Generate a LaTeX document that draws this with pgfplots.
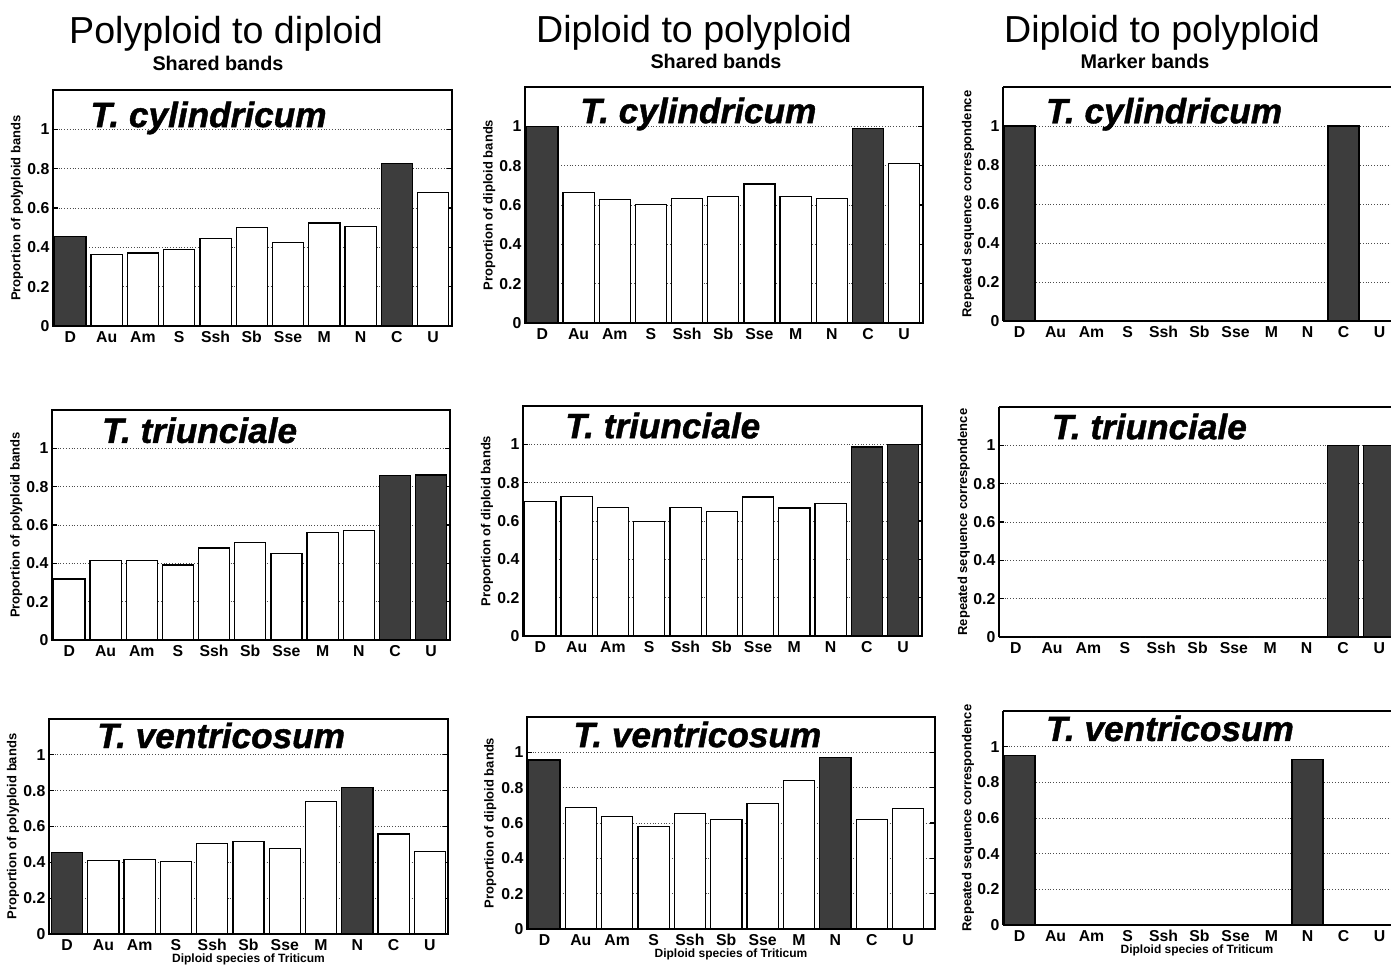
\documentclass[border=0pt]{standalone}
\usepackage{fontspec}
\setmainfont{Liberation Sans}
\newfontfamily\heavy{Liberation Sans Bold Italic}[FakeBold=1.2]
\usepackage{pgfplots}
\pgfplotsset{compat=1.18}

\pgfplotsset{
  panel/.style={
    scale only axis,
    ymin=0, ymax=1.2,
    xmin=-0.48, xmax=10.52,
    ytick={0,0.2,0.4,0.6,0.8,1},
    yticklabels={0,0.2,0.4,0.6,0.8,1},
    xtick={0,1,2,3,4,5,6,7,8,9,10},
    xticklabels={D,Au,Am,S,Ssh,Sb,Sse,M,N,C,U},
    major x tick style={draw=none},
    tick align=inside,
    major tick length=2.5bp,
    ymajorgrids,
    major grid style={densely dotted, black!70, line width=0.5bp},
    axis line style={line width=0.8bp},
    every tick/.style={line width=0.6bp, black},
    ticklabel style={font=\fontsize{7.9bp}{8.5bp}\selectfont\bfseries},
    yticklabel style={inner sep=1.6bp},
    xticklabel style={anchor=base, yshift=-8.2bp},
    ylabel style={font=\fontsize{6.5bp}{7bp}\selectfont\bfseries, at={(axis description cs:-0.09,0.5)}, anchor=center},
    xlabel style={font=\fontsize{6bp}{7bp}\selectfont\bfseries, at={(axis description cs:0.5,0)}, anchor=center, yshift=-12.5bp},
  },
  marker/.style={panel, xmin=-0.46, xmax=10.32, axis x line*=box, axis y line*=left},
  lbar/.style={ybar, bar width=0.86, bar shift=0pt, fill=white, draw=black, line width=0.6bp},
  dbar/.style={ybar, bar width=0.86, bar shift=0pt, fill=black!76, draw=black, line width=0.6bp},
}
\tikzset{ptitle/.style={anchor=base west, inner sep=0pt, font=\heavy\fontsize{17.6bp}{20bp}\selectfont}}

\begin{document}
\begin{tikzpicture}
\useasboundingbox (0,0) rectangle (695.5bp,-483bp);

% column titles
\node[anchor=base, inner sep=0pt, font=\fontsize{18.8bp}{21bp}\selectfont] at (113bp,-21.5bp) {Polyploid to diploid};
\node[anchor=base, inner sep=0pt, font=\fontsize{9.9bp}{11bp}\selectfont\bfseries] at (109bp,-35bp) {Shared bands};
\node[anchor=base, inner sep=0pt, font=\fontsize{18.8bp}{21bp}\selectfont] at (347bp,-21bp) {Diploid to polyploid};
\node[anchor=base, inner sep=0pt, font=\fontsize{9.9bp}{11bp}\selectfont\bfseries] at (358bp,-34bp) {Shared bands};
\node[anchor=base, inner sep=0pt, font=\fontsize{18.8bp}{21bp}\selectfont] at (581bp,-21bp) {Diploid to polyploid};
\node[anchor=base, inner sep=0pt, font=\fontsize{9.9bp}{11bp}\selectfont\bfseries] at (572.5bp,-34bp) {Marker bands};

% ---------- Row 1: T. cylindricum ----------
\begin{axis}[panel, at={(26.5bp,-163bp)}, width=199.5bp, height=118bp,
  ylabel={Proportion of polyploid bands}]
\addplot[lbar] coordinates {(1,0.364) (2,0.371) (3,0.388) (4,0.446) (5,0.500) (6,0.425) (7,0.524) (8,0.507) (10,0.677)};
\addplot[dbar] coordinates {(0,0.456) (9,0.825)};
\node[ptitle] at (rel axis cs:0.093,0.843) {T. cylindricum};
\end{axis}

\begin{axis}[panel, at={(262.5bp,-161.5bp)}, width=199bp, height=118bp,
  ylabel={Proportion of diploid bands}]
\addplot[lbar] coordinates {(1,0.664) (2,0.627) (3,0.601) (4,0.634) (5,0.644) (6,0.707) (7,0.644) (8,0.635) (10,0.813)};
\addplot[dbar] coordinates {(0,1.0) (9,0.988)};
\node[ptitle] at (rel axis cs:0.138,0.847) {T. cylindricum};
\end{axis}

\begin{axis}[marker, at={(501.5bp,-160.5bp)}, width=194bp, height=117bp,
  ylabel={Repeated sequence correspondence}]
\addplot[lbar] coordinates {(1,0) (2,0) (3,0) (4,0) (5,0) (6,0) (7,0) (8,0) (10,0)};
\addplot[dbar] coordinates {(0,1.0) (9,1.0)};
\node[ptitle] at (rel axis cs:0.11,0.845) {T. cylindricum};
\end{axis}

% ---------- Row 2: T. triunciale ----------
\begin{axis}[panel, at={(26bp,-320bp)}, width=199bp, height=115bp,
  ylabel={Proportion of polyploid bands}]
\addplot[lbar] coordinates {(0,0.318) (1,0.414) (2,0.414) (3,0.391) (4,0.480) (5,0.510) (6,0.452) (7,0.560) (8,0.572)};
\addplot[dbar] coordinates {(9,0.857) (10,0.861)};
\node[ptitle] at (rel axis cs:0.125,0.857) {T. triunciale};
\end{axis}

\begin{axis}[panel, at={(261.5bp,-318bp)}, width=199.5bp, height=115bp,
  ylabel={Proportion of diploid bands}]
\addplot[lbar] coordinates {(0,0.703) (1,0.727) (2,0.671) (3,0.597) (4,0.671) (5,0.649) (6,0.725) (7,0.668) (8,0.692)};
\addplot[dbar] coordinates {(9,0.986) (10,1.0)};
\node[ptitle] at (rel axis cs:0.105,0.86) {T. triunciale};
\end{axis}

\begin{axis}[marker, at={(499.5bp,-318.5bp)}, width=196bp, height=115bp,
  ylabel={Repeated sequence correspondence}]
\addplot[lbar] coordinates {(0,0) (1,0) (2,0) (3,0) (4,0) (5,0) (6,0) (7,0) (8,0)};
\addplot[dbar] coordinates {(9,1.0) (10,1.0)};
\node[ptitle] at (rel axis cs:0.134,0.86) {T. triunciale};
\end{axis}

% ---------- Row 3: T. ventricosum ----------
\begin{axis}[panel, at={(24.5bp,-467bp)}, width=199.5bp, height=107.5bp,
  xmin=-0.5, xmax=10.5,
  ylabel={Proportion of polyploid bands}, xlabel={Diploid species of Triticum}]
\addplot[lbar] coordinates {(1,0.411) (2,0.416) (3,0.403) (4,0.507) (5,0.515) (6,0.476) (7,0.738) (9,0.558) (10,0.461)};
\addplot[dbar] coordinates {(0,0.457) (8,0.818)};
\node[ptitle] at (rel axis cs:0.12,0.865) {T. ventricosum};
\end{axis}

\begin{axis}[panel, at={(263.5bp,-464.5bp)}, width=204bp, height=106bp,
  xmin=-0.48, xmax=10.74,
  ylabel={Proportion of diploid bands}, xlabel={Diploid species of Triticum}]
\addplot[lbar] coordinates {(1,0.689) (2,0.637) (3,0.580) (4,0.652) (5,0.618) (6,0.712) (7,0.840) (9,0.621) (10,0.684)};
\addplot[dbar] coordinates {(0,0.957) (8,0.970)};
\node[ptitle] at (rel axis cs:0.113,0.858) {T. ventricosum};
\end{axis}

\begin{axis}[marker, at={(501.5bp,-462.5bp)}, width=194bp, height=107bp,
  ylabel={Repeated sequence correspondence}, xlabel={Diploid species of Triticum}]
\addplot[lbar] coordinates {(1,0) (2,0) (3,0) (4,0) (5,0) (6,0) (7,0) (9,0) (10,0)};
\addplot[dbar] coordinates {(0,0.950) (8,0.929)};
\node[ptitle] at (rel axis cs:0.11,0.86) {T. ventricosum};
\end{axis}
\end{tikzpicture}
\end{document}
